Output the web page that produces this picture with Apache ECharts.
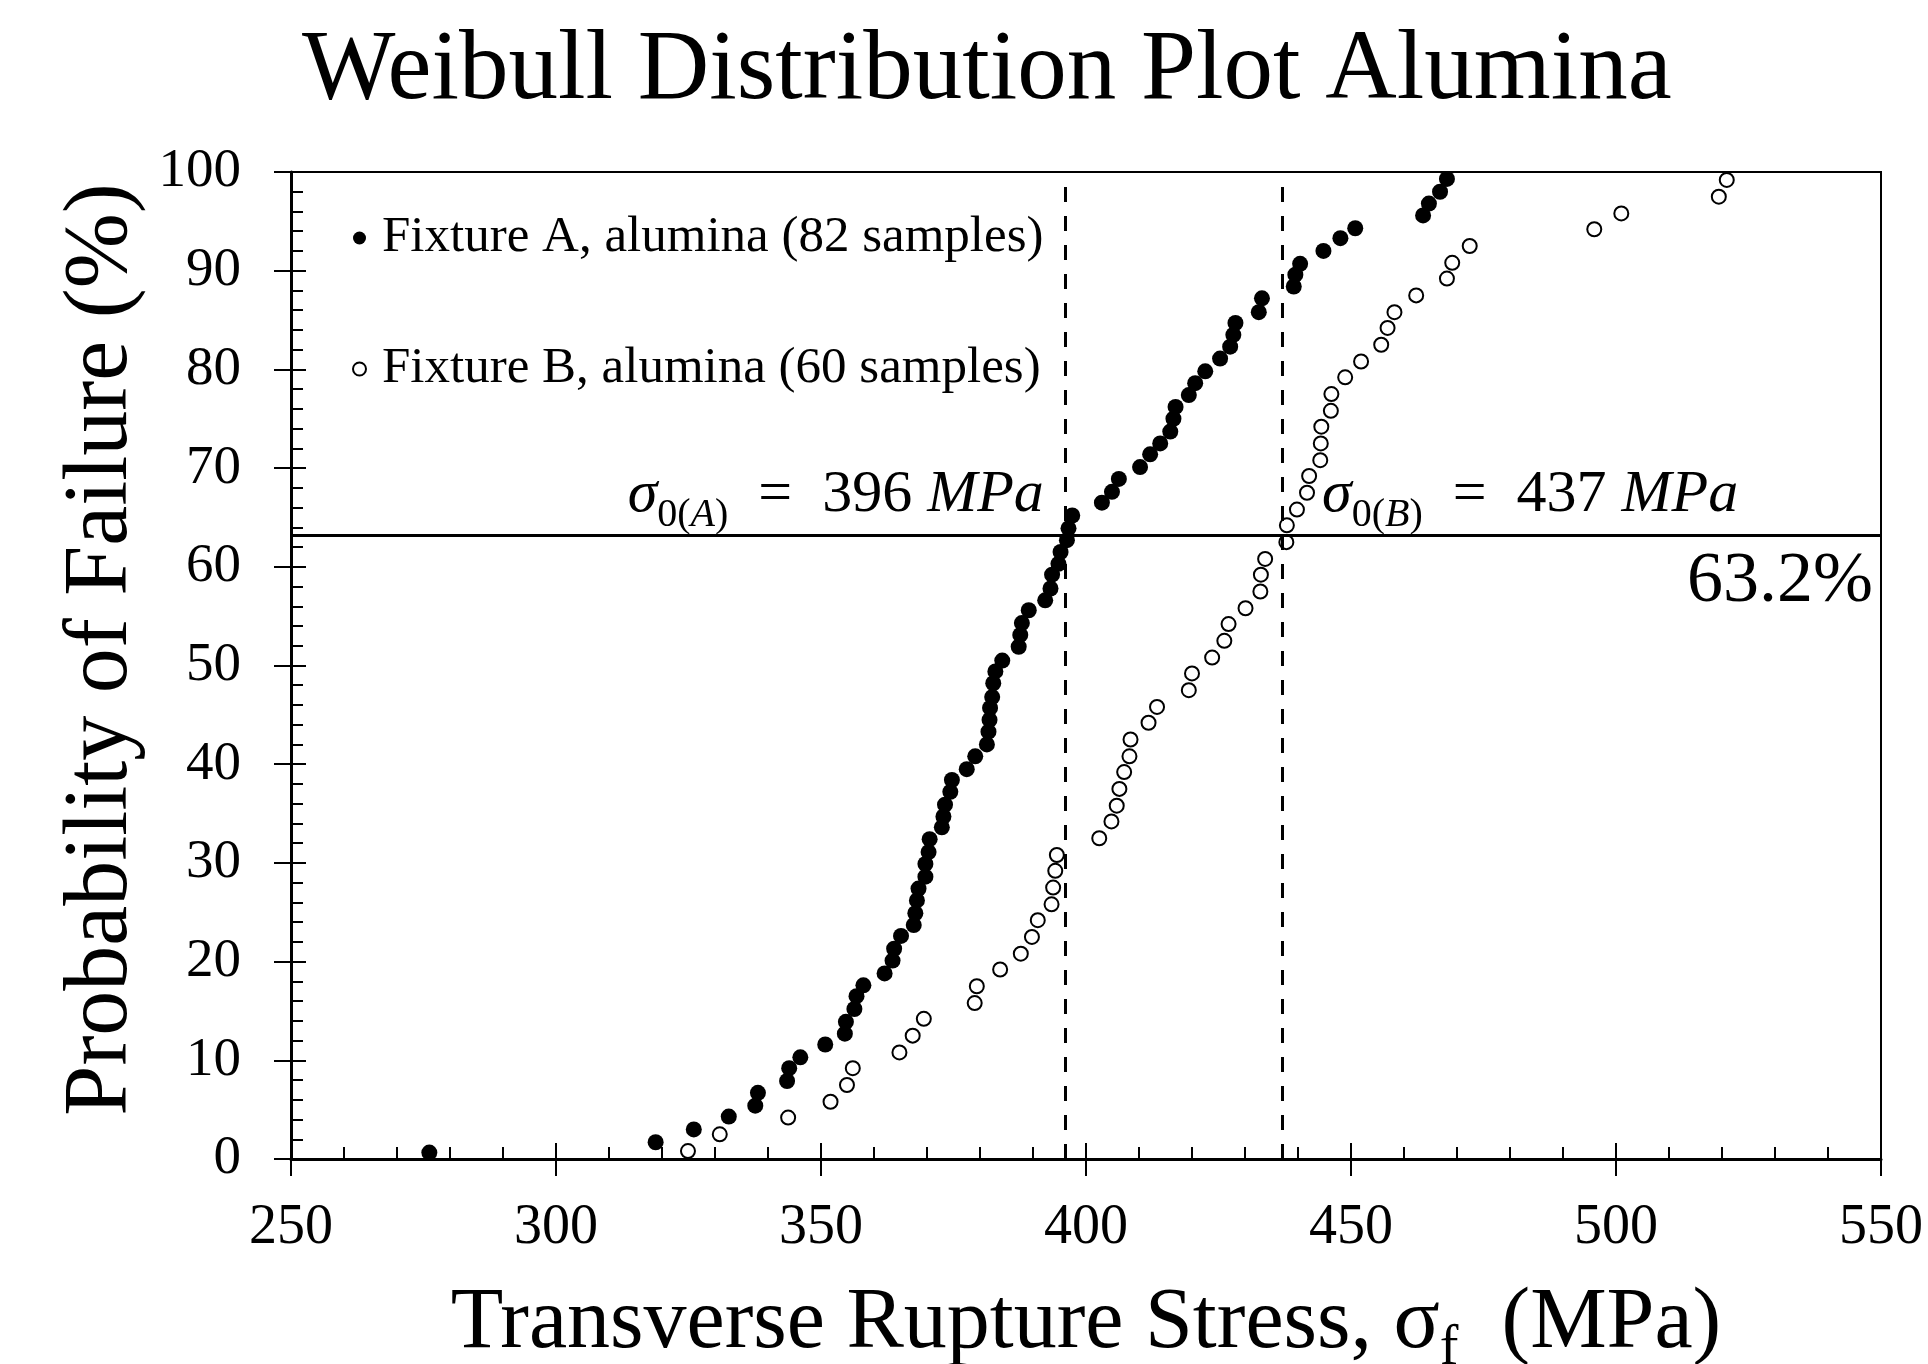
<!DOCTYPE html>
<html>
<head>
<meta charset="utf-8">
<title>Weibull Distribution Plot Alumina</title>
<script src="https://cdn.jsdelivr.net/npm/echarts@6/dist/echarts.min.js"></script>
<style>
    html, body { margin: 0; padding: 0; background: #fff; }
    #main { width: 1928px; height: 1364px; }
</style>
</head>
<body>
<div id="main"></div>
<script>
// values
var stressA = [276.1, 318.8, 326.0, 332.6, 337.6, 338.1, 343.6, 344.0, 346.1, 350.8,
    354.5, 354.7, 356.3, 356.7, 358.0, 362.0, 363.5, 363.8, 365.1, 367.5,
    367.8, 368.1, 368.4, 369.7, 369.7, 370.3, 370.5, 372.8, 373.1, 373.4,
    374.4, 374.7, 377.5, 379.1, 381.3, 381.6, 381.8, 381.9, 382.3, 382.5,
    382.9, 384.2, 387.3, 387.6, 387.9, 389.2, 392.3, 393.3, 393.6, 394.8,
    395.2, 396.4, 396.7, 397.4, 403.0, 404.9, 406.2, 410.2, 412.1, 414.0,
    415.9, 416.5, 416.9, 419.4, 420.6, 422.5, 425.3, 427.2, 427.8, 428.2,
    432.6, 433.2, 439.2, 439.5, 440.4, 444.8, 448.0, 450.8, 463.6, 464.7,
    466.8, 468.1];
var probA = [0.65, 1.7, 3.0, 4.3, 5.4, 6.7, 7.9, 9.2, 10.3, 11.6,
    12.7, 13.9, 15.2, 16.5, 17.6, 18.8, 20.1, 21.3, 22.6, 23.7,
    24.9, 26.2, 27.4, 28.6, 29.9, 31.1, 32.4, 33.6, 34.7, 35.9,
    37.2, 38.4, 39.5, 40.8, 42.0, 43.3, 44.5, 45.7, 46.8, 48.2,
    49.4, 50.5, 51.9, 53.1, 54.3, 55.6, 56.6, 57.8, 59.2, 60.3,
    61.5, 62.7, 63.9, 65.2, 66.5, 67.6, 68.9, 70.1, 71.4, 72.5,
    73.7, 75.0, 76.2, 77.4, 78.6, 79.8, 81.1, 82.3, 83.5, 84.7,
    85.8, 87.2, 88.4, 89.6, 90.7, 92.0, 93.3, 94.3, 95.6, 96.8,
    98.0, 99.3];
var stressB = [324.9, 330.9, 343.8, 351.8, 354.9, 356.0, 364.8, 367.3, 369.4, 379.0,
    379.4, 383.8, 387.7, 389.8, 390.9, 393.5, 393.8, 394.2, 394.5, 402.5,
    404.8, 405.8, 406.3, 407.2, 408.2, 408.4, 411.8, 413.4, 419.4, 420.0,
    423.8, 426.1, 426.9, 430.1, 432.9, 433.0, 433.8, 437.8, 437.9, 439.8,
    441.7, 442.1, 444.2, 444.3, 444.4, 446.2, 446.3, 448.9, 451.9, 455.7,
    456.9, 458.2, 462.3, 468.1, 469.1, 472.4, 495.9, 501.0, 519.4, 520.9];
var probB = [0.8, 2.5, 4.2, 5.8, 7.5, 9.2, 10.8, 12.5, 14.2, 15.8,
    17.5, 19.2, 20.8, 22.5, 24.2, 25.8, 27.5, 29.2, 30.8, 32.5,
    34.2, 35.8, 37.5, 39.2, 40.8, 42.5, 44.2, 45.8, 47.5, 49.2,
    50.8, 52.5, 54.2, 55.8, 57.5, 59.2, 60.8, 62.5, 64.2, 65.8,
    67.5, 69.2, 70.8, 72.5, 74.2, 75.8, 77.5, 79.2, 80.8, 82.5,
    84.2, 85.8, 87.5, 89.2, 90.8, 92.5, 94.2, 95.8, 97.5, 99.2];

var seriesNames = ['Fixture A, alumina (82 samples)', 'Fixture B, alumina (60 samples)'];
var sigma0 = [396, 437];      // characteristic strengths (MPa)
var failLevel = 63.2;         // %
var xRange = [250, 550, 50];
var yRange = [0, 100, 10];

var FONT = '"Liberation Serif", "Times New Roman", serif';

var myChart = echarts.init(document.getElementById('main'));

function pairs(xs, ys) {
    var out = [];
    for (var i = 0; i < xs.length; i++) out.push([xs[i], ys[i]]);
    return out;
}

var baseX = { type: 'value', min: xRange[0], max: xRange[1], interval: xRange[2], position: 'bottom', splitLine: { show: false } };
var baseY = { type: 'value', min: yRange[0], max: yRange[1], interval: yRange[2], position: 'left', splitLine: { show: false } };

var option = {
    backgroundColor: '#fff',
    animation: false,
    title: {
        text: 'Weibull Distribution Plot Alumina',
        left: 302, top: 22, padding: 0,
        textStyle: { fontFamily: FONT, fontSize: 99, fontWeight: 'normal', color: '#000' }
    },
    grid: {
        left: 291, right: 47, top: 172, bottom: 205,
        outerBoundsMode: 'none', containLabel: false,
        show: true, borderColor: '#000', borderWidth: 2, backgroundColor: 'transparent'
    },
    legend: {
        orient: 'vertical', left: 347, top: 203, itemGap: 71,
        itemWidth: 13, itemHeight: 13, icon: 'circle',
        data: seriesNames,
        textStyle: { fontFamily: FONT, fontSize: 51, color: '#000', lineHeight: 60, padding: [0, 0, 0, 11] }
    },
    xAxis: [
        Object.assign({}, baseX, {
            name: '{m|Transverse Rupture Stress, σ}{sub|f}{m|  (MPa)}',
            nameLocation: 'middle', nameGap: 112,
            nameTextStyle: {
                fontFamily: FONT, fontSize: 86, color: '#000',
                rich: {
                    m: { fontFamily: FONT, fontSize: 86, color: '#000', verticalAlign: 'middle' },
                    sub: { fontFamily: FONT, fontSize: 56, color: '#000', verticalAlign: 'middle', padding: [50, 0, 0, 0] }
                }
            },
            axisLine: { onZero: false, lineStyle: { color: '#000', width: 3 } },
            axisTick: { inside: false, length: 17, lineStyle: { color: '#000', width: 2 } },
            axisLabel: { margin: 41, fontFamily: FONT, fontSize: 56, color: '#000' }
        }),
        Object.assign({}, baseX, {
            axisLine: { show: false },
            axisLabel: { show: false },
            axisTick: { inside: true, length: 16, lineStyle: { color: '#000', width: 2 } },
            minorTick: { show: true, splitNumber: 5, length: 12, lineStyle: { color: '#000', width: 2 } }
        })
    ],
    yAxis: [
        Object.assign({}, baseY, {
            name: 'Probability of Failure (%)',
            nameLocation: 'middle', nameGap: 142,
            nameTextStyle: { fontFamily: FONT, fontSize: 90, color: '#000', padding: [0, 0, 0, 32] },
            axisLine: { onZero: false, lineStyle: { color: '#000', width: 3 } },
            axisTick: { inside: false, length: 17, lineStyle: { color: '#000', width: 2 } },
            axisLabel: { margin: 50, fontFamily: FONT, fontSize: 55, color: '#000' }
        }),
        Object.assign({}, baseY, {
            axisLine: { show: false },
            axisLabel: { show: false },
            axisTick: { inside: true, length: 15, lineStyle: { color: '#000', width: 2 } },
            minorTick: { show: true, splitNumber: 5, length: 12, lineStyle: { color: '#000', width: 2 } }
        })
    ],
    series: [
        {
            name: seriesNames[0], type: 'scatter', xAxisIndex: 0, yAxisIndex: 0,
            symbol: 'circle', symbolSize: 16,
            itemStyle: { color: '#000', opacity: 1 },
            emphasis: { disabled: true },
            data: pairs(stressA, probA),
            z: 3,
            markLine: {
                silent: true, symbol: 'none', label: { show: false },
                data: [
                    { xAxis: sigma0[0], lineStyle: { color: '#000', width: 3, type: [15, 14], opacity: 1 } },
                    { xAxis: sigma0[1], lineStyle: { color: '#000', width: 3, type: [15, 14], opacity: 1 } },
                    { yAxis: failLevel, lineStyle: { color: '#000', width: 3, type: 'solid', opacity: 1 } }
                ]
            }
        },
        {
            name: seriesNames[1], type: 'scatter', xAxisIndex: 0, yAxisIndex: 0,
            symbol: 'circle', symbolSize: 14,
            itemStyle: { color: '#fff', borderColor: '#000', borderWidth: 2, opacity: 1 },
            emphasis: { disabled: true },
            data: pairs(stressB, probB),
            z: 3
        }
    ]
};

myChart.setOption(option);

// annotation texts placed from the axis scales
var pA = myChart.convertToPixel({ gridIndex: 0 }, [sigma0[0], failLevel]);
var pB = myChart.convertToPixel({ gridIndex: 0 }, [sigma0[1], failLevel]);
var pR = myChart.convertToPixel({ gridIndex: 0 }, [xRange[1], failLevel]);

var annRich = {
    it: { fontFamily: FONT, fontStyle: 'italic', fontSize: 60, color: '#000', verticalAlign: 'middle' },
    n: { fontFamily: FONT, fontSize: 60, color: '#000', verticalAlign: 'middle' },
    sub: { fontFamily: FONT, fontSize: 40, color: '#000', verticalAlign: 'middle', padding: [40, 0, 0, 0] },
    subi: { fontFamily: FONT, fontStyle: 'italic', fontSize: 40, color: '#000', verticalAlign: 'middle', padding: [40, 0, 0, 0] }
};

function annText(letter, val) {
    return '{it|σ}{sub|0(}{subi|' + letter + '}{sub|)}{n|  =  ' + val + ' }{it|MPa}';
}

myChart.setOption({
    graphic: [
        {
            type: 'text', x: pA[0] - 21, y: pA[1] - 80, z: 10,
            style: { text: annText('A', sigma0[0]), rich: annRich, align: 'right', verticalAlign: 'top' }
        },
        {
            type: 'text', x: pB[0] + 40, y: pB[1] - 80, z: 10,
            style: { text: annText('B', sigma0[1]), rich: annRich, align: 'left', verticalAlign: 'top' }
        },
        {
            type: 'text', x: pR[0] - 8, y: pR[1] + 11, z: 10,
            style: { text: failLevel + '%', fontFamily: FONT, fontSize: 72, fill: '#000', align: 'right', verticalAlign: 'top' }
        }
    ]
});
</script>
</body>
</html>
